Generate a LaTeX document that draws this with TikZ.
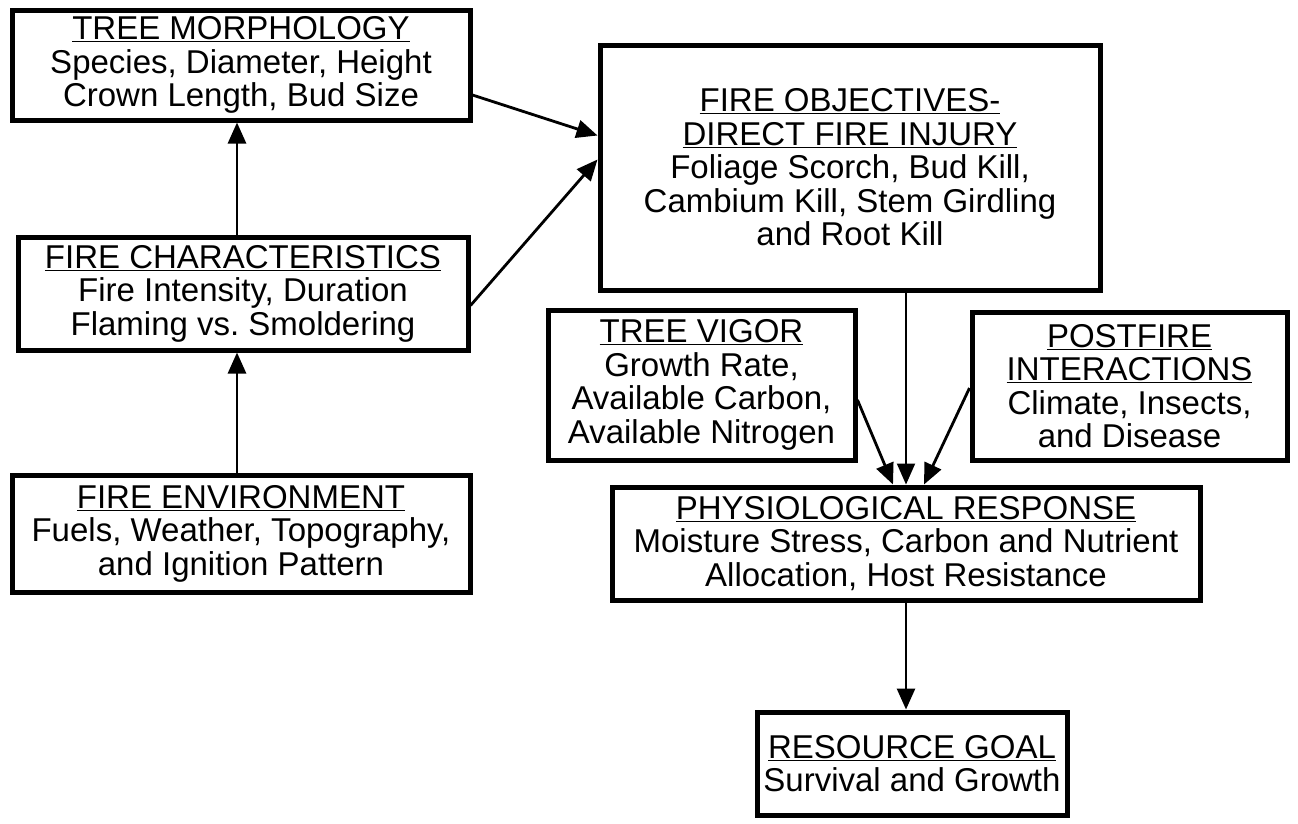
\documentclass[tikz,border=0pt]{standalone}
\usepackage{fontspec}
\setmainfont{Liberation Sans}
\usetikzlibrary{arrows.meta}
\frenchspacing
\tikzset{
  box/.style={draw=black, line width=5pt, fill=white, inner sep=0pt, align=center,
    font=\fontsize{33}{33.5}\selectfont},
  conn/.style={line width=2.8pt, -{Triangle[length=21pt,width=18pt]}},
}
\newcommand{\hd}[1]{\underline{#1}}
\begin{document}
\begin{tikzpicture}[x=1pt,y=-1pt]
\useasboundingbox (0,0) rectangle (1298,823);
\node[box, minimum width=458pt, minimum height=110pt] (tm) at (241,65)
  {\hd{TREE MORPHOLOGY}\\Species, Diameter, Height\\Crown Length, Bud Size};
\node[box, minimum width=500pt, minimum height=245pt] (fo) at (850,167.5)
  {\hd{FIRE OBJECTIVES-}\\\hd{DIRECT FIRE INJURY}\\Foliage Scorch, Bud Kill,\\Cambium Kill, Stem Girdling\\and Root Kill};
\node[box, minimum width=450pt, minimum height=113pt] (fc) at (243,293.5)
  {\hd{FIRE CHARACTERISTICS}\\Fire Intensity, Duration\\Flaming vs. Smoldering};
\node[box, minimum width=458pt, minimum height=117pt] (fe) at (241,533.5)
  {\hd{FIRE ENVIRONMENT}\\Fuels, Weather, Topography,\\and Ignition Pattern};
\node[box, minimum width=307pt, minimum height=150pt] (tv) at (701.5,385)
  {\hd{TREE VIGOR}\\Growth Rate,\\Available Carbon,\\Available Nitrogen};
\node[box, minimum width=315pt, minimum height=148pt] (pi) at (1129.5,386)
  {\hd{POSTFIRE}\\\hd{INTERACTIONS}\\Climate, Insects,\\and Disease};
\node[box, minimum width=588pt, minimum height=113pt] (pr) at (906,543.5)
  {\hd{PHYSIOLOGICAL RESPONSE}\\Moisture Stress, Carbon and Nutrient\\Allocation, Host Resistance};
\node[box, minimum width=310pt, minimum height=103pt] (rg) at (912,763.5)
  {\hd{RESOURCE GOAL}\\Survival and Growth};
% connectors
\draw[conn] ([yshift=-30pt]tm.east) -- ([yshift=32pt]fo.west);
\draw[conn] ([yshift=-12pt]fc.east) -- ([yshift=8pt]fo.west);
\draw[conn] ([xshift=-6pt]fc.north) -- ([xshift=-6pt]fc.north |- tm.south);
\draw[conn] ([xshift=-4pt]fe.north) -- ([xshift=-4pt]fe.north |- fc.south);
\draw[conn, line width=2pt] (fo.south -| pr.north) -- (pr.north);
\draw[conn] ([yshift=-15pt]tv.east) -- ([xshift=-13pt]pr.north);
\draw[conn] ([yshift=-2pt]pi.west) -- ([xshift=18pt]pr.north);
\draw[conn] (pr.south) -- (pr.south |- rg.north);
\end{tikzpicture}
\end{document}
